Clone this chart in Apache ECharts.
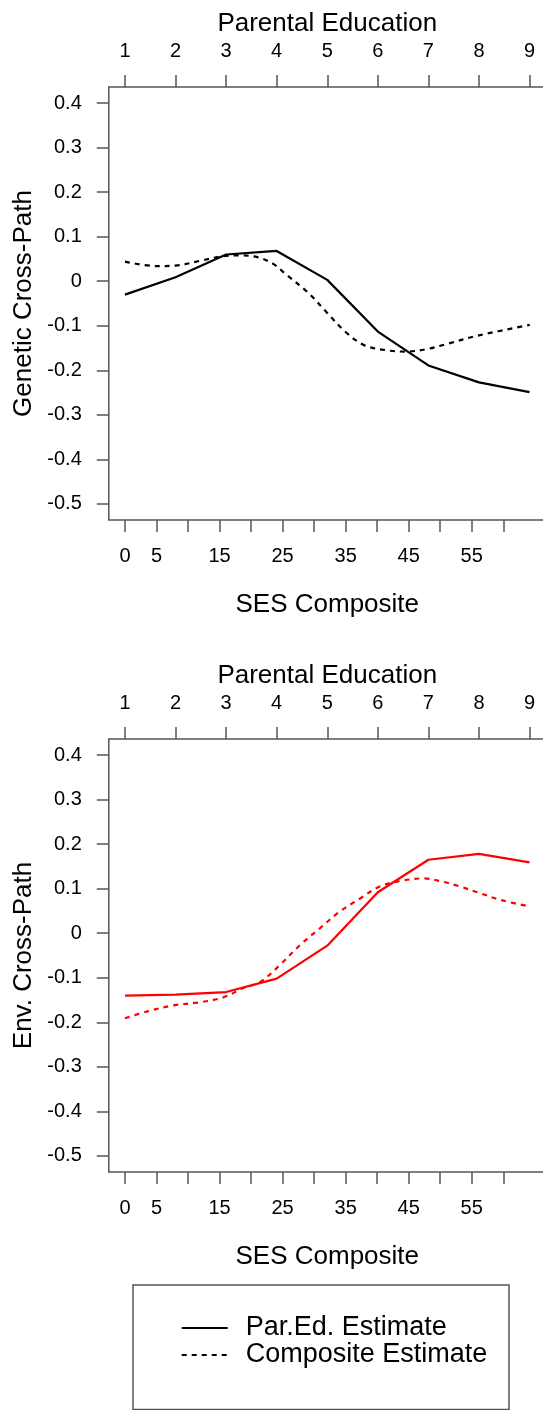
<!DOCTYPE html>
<html><head><meta charset="utf-8">
<script src="https://cdn.jsdelivr.net/npm/echarts@6/dist/echarts.min.js"></script>
<style>html,body{margin:0;padding:0;background:#fff}#c{width:543px;height:1410px}</style>
</head><body><div id="c"></div>
<script>
// ---- data ----
const parEdTicks = [1, 2, 3, 4, 5, 6, 7, 8, 9];
const sesTicks = [0, 5, 10, 15, 20, 25, 30, 35, 40, 45, 50, 55, 60];
const sesLabels = [0, 5, 15, 25, 35, 45, 55];
const yTicks = [-0.5, -0.4, -0.3, -0.2, -0.1, 0, 0.1, 0.2, 0.3, 0.4];

const parEdLevels = [1, 2, 3, 4, 5, 6, 7, 8, 9];
const geneticParEd = [-0.030, 0.009, 0.060, 0.068, 0.003, -0.113, -0.189, -0.227, -0.249];
const geneticSES = [0, 5, 8, 12, 16, 18, 21, 23.5, 25.5, 29, 32, 35, 38, 41.5, 44.5, 48, 51, 56, 64.2];
const geneticComposite = [0.044, 0.034, 0.035, 0.046, 0.057, 0.058, 0.054, 0.039, 0.016, -0.025, -0.070, -0.114, -0.144, -0.155, -0.158, -0.152, -0.141, -0.122, -0.098];

const envParEd = [-0.140, -0.138, -0.132, -0.102, -0.028, 0.092, 0.165, 0.178, 0.159];
const envSES = [0, 3.4, 7.7, 11.9, 15.6, 18.8, 21.4, 24.6, 27.8, 30.9, 34.1, 37.3, 40.4, 43.6, 47.3, 50, 53.1, 56.3, 59.5, 64.2];
const envComposite = [-0.191, -0.176, -0.162, -0.155, -0.144, -0.123, -0.110, -0.071, -0.026, 0.011, 0.049, 0.078, 0.105, 0.117, 0.123, 0.117, 0.105, 0.090, 0.075, 0.060];

const seriesNames = ['Par.Ed. Estimate', 'Composite Estimate'];
const panelTitles = ['Genetic Cross-Path', 'Env. Cross-Path'];
const topTitle = 'Parental Education';
const bottomTitle = 'SES Composite';

// ---- styling / layout ----
const font = 'Liberation Sans, Arial, Helvetica, sans-serif';
const axisCol = '#555';
const gridLeft = 108.8, gridWidth = 436.9, gridHeight = 433;
const gridTops = [87, 739];

const zip = (xs, ys) => xs.map((x, i) => [x, ys[i]]);
const txt = (size) => ({ fontSize: size, color: '#000', fontFamily: font });
const hiddenLine = { show: false, onZero: false };

const grids = [], xAxes = [], yAxes = [];
gridTops.forEach((top, i) => {
  grids.push({ left: gridLeft, top: top, width: gridWidth, height: gridHeight,
    outerBoundsMode: 'none', containLabel: false,
    show: true, borderColor: axisCol, borderWidth: 1.5, backgroundColor: 'transparent' });
  xAxes.push({
    type: 'value', gridIndex: i, position: 'top', min: 0.68, max: 9.32,
    name: topTitle, nameLocation: 'middle', nameGap: 50, nameTextStyle: txt(26),
    axisLine: hiddenLine, splitLine: { show: false },
    axisTick: { show: true, length: 12, lineStyle: { color: axisCol, width: 1.5 }, customValues: parEdTicks },
    axisLabel: Object.assign({ customValues: parEdTicks, margin: 26, lineHeight: 20 }, txt(20))
  });
  xAxes.push({
    type: 'value', gridIndex: i, position: 'bottom', min: -2.566, max: 66.73,
    name: bottomTitle, nameLocation: 'middle', nameGap: 72, nameTextStyle: txt(26),
    axisLine: hiddenLine, splitLine: { show: false },
    axisTick: { show: true, length: 12, lineStyle: { color: axisCol, width: 1.5 }, customValues: sesTicks },
    axisLabel: Object.assign({ customValues: sesLabels, margin: 26, lineHeight: 20 }, txt(20))
  });
  yAxes.push({
    type: 'value', gridIndex: i, min: -0.536, max: 0.436,
    name: panelTitles[i], nameLocation: 'middle', nameRotate: 90, nameGap: 71, nameTextStyle: txt(26),
    axisLine: hiddenLine, splitLine: { show: false },
    axisTick: { show: true, length: 12, lineStyle: { color: axisCol, width: 1.5 }, customValues: yTicks },
    axisLabel: Object.assign({ customValues: yTicks, margin: 27,
      formatter: v => (Math.abs(v) < 1e-9 ? '0' : v.toFixed(1)) }, txt(20))
  });
});

function lineSeries(name, xi, yi, data, color, dotted) {
  return {
    name: name, type: 'line', xAxisIndex: xi, yAxisIndex: yi, data: data,
    symbol: 'none', showSymbol: false, smooth: dotted ? 0.35 : false, silent: true,
    lineStyle: { color: color, width: 2.2, type: dotted ? [5, 5] : 'solid' },
    itemStyle: { color: color }
  };
}

const option = {
  animation: false,
  backgroundColor: '#fff',
  grid: grids, xAxis: xAxes, yAxis: yAxes,
  legend: {
    data: seriesNames, orient: 'vertical', left: 133, top: 1285,
    padding: [29.5, 21.7, 41, 47.7], itemWidth: 46, itemHeight: 27, itemGap: 0,
    borderColor: axisCol, borderWidth: 1.5, selectedMode: false,
    itemStyle: { opacity: 0 },
    textStyle: Object.assign({ padding: [0, 0, 0, 13] }, txt(27))
  },
  series: [
    lineSeries(seriesNames[0], 0, 0, zip(parEdLevels, geneticParEd), '#000', false),
    lineSeries(seriesNames[1], 1, 0, zip(geneticSES, geneticComposite), '#000', true),
    lineSeries(seriesNames[0], 2, 1, zip(parEdLevels, envParEd), '#ff0000', false),
    lineSeries(seriesNames[1], 3, 1, zip(envSES, envComposite), '#ff0000', true)
  ]
};

const chart = echarts.init(document.getElementById('c'), null, { renderer: 'canvas' });
chart.setOption(option);
</script>
</body></html>
